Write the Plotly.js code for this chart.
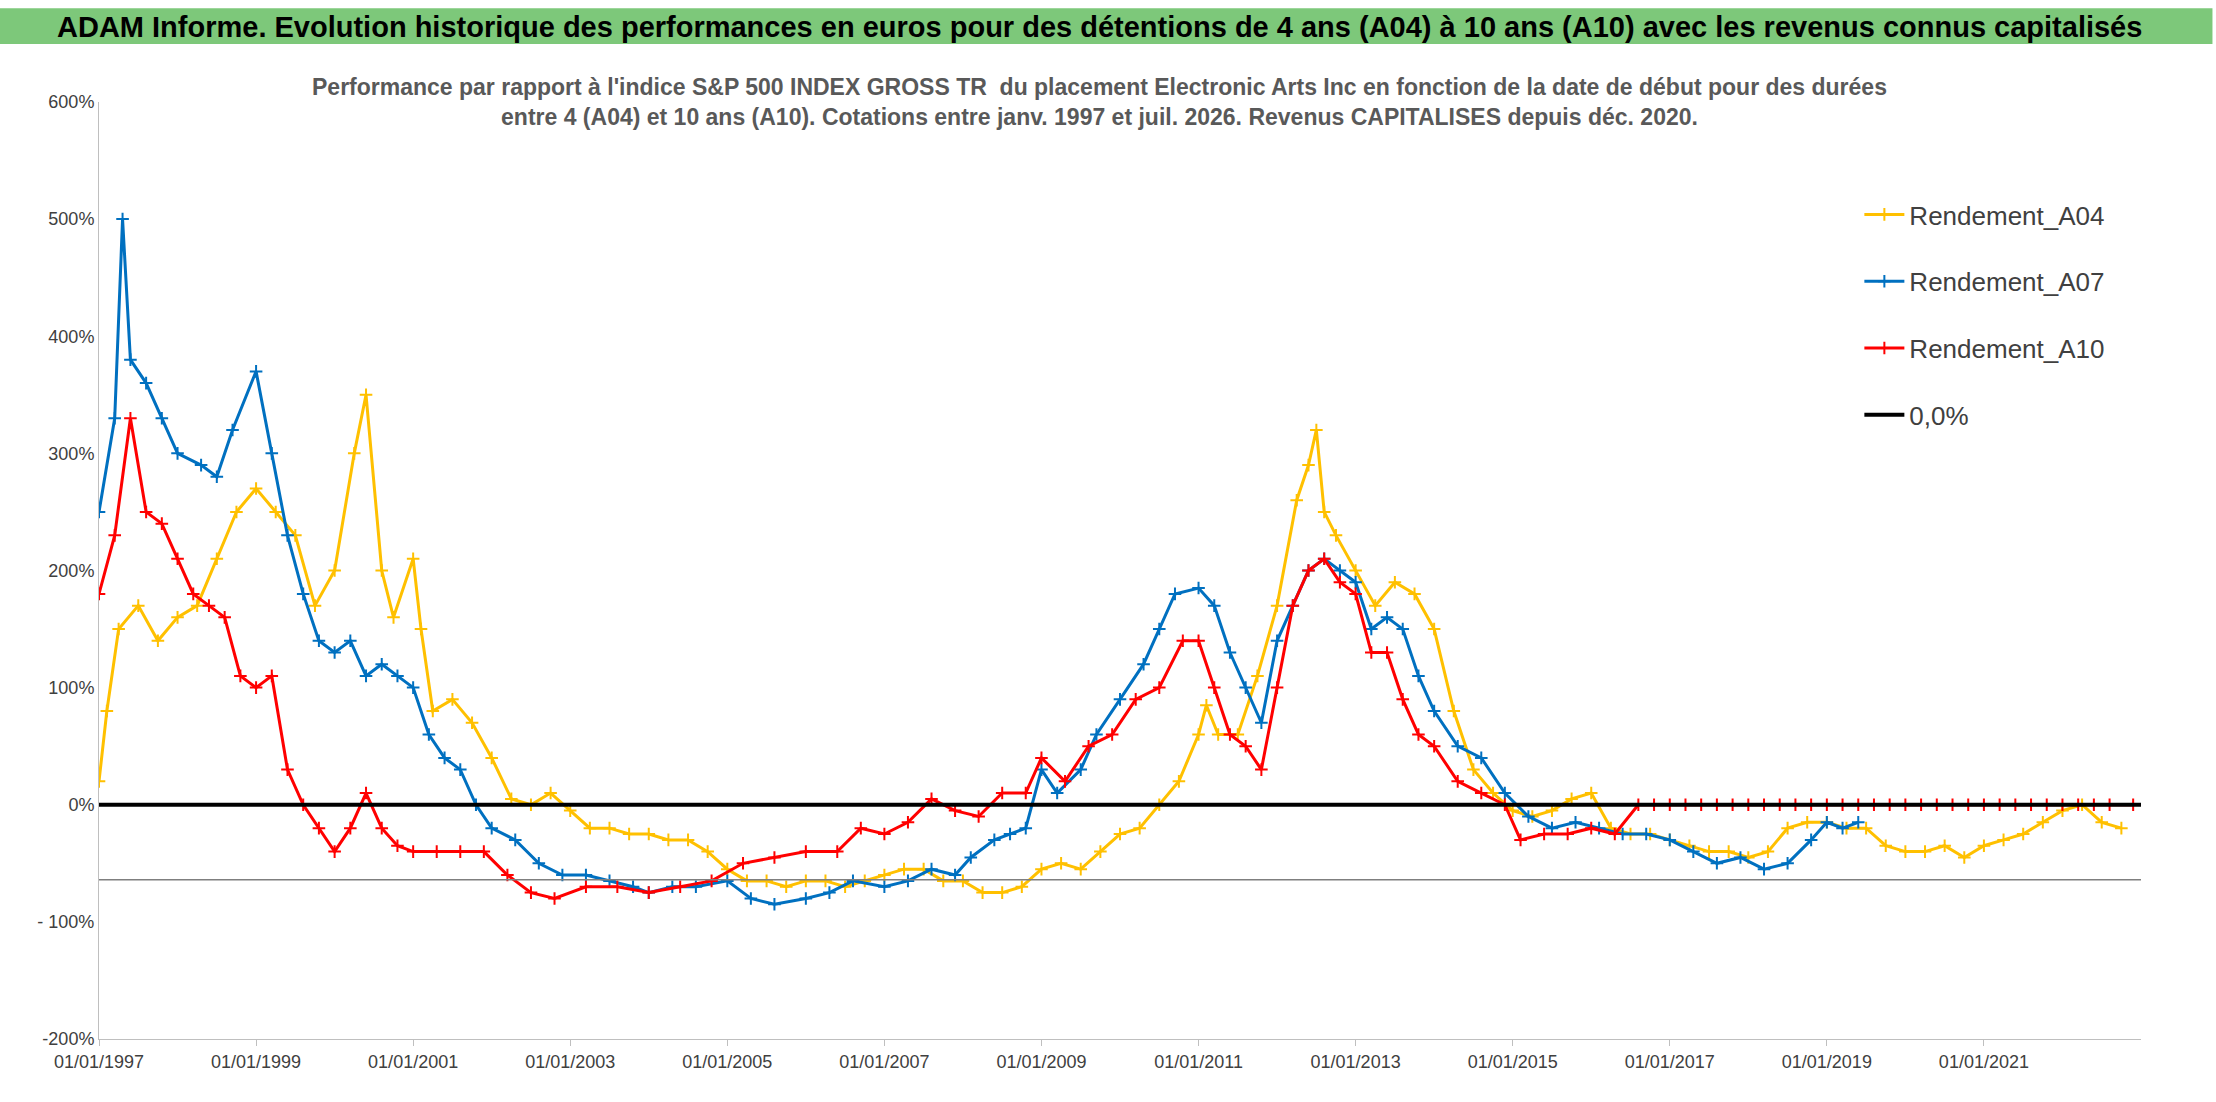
<!DOCTYPE html>
<html><head><meta charset="utf-8">
<script src="https://cdn.plot.ly/plotly-3.0.1.min.js"></script>
<style>body{margin:0;background:#fff}#c{width:2216px;height:1102px}</style></head>
<body><div id="c"></div>
<script>
const a04x=[1997.0,1997.1,1997.25,1997.5,1997.75,1998.0,1998.25,1998.5,1998.75,1999.0,1999.25,1999.5,1999.75,2000.0,2000.25,2000.4,2000.6,2000.75,2001.0,2001.1,2001.25,2001.5,2001.75,2002.0,2002.25,2002.5,2002.75,2003.0,2003.25,2003.5,2003.75,2004.0,2004.25,2004.5,2004.75,2005.0,2005.25,2005.5,2005.75,2006.0,2006.25,2006.5,2006.75,2007.0,2007.25,2007.5,2007.75,2008.0,2008.25,2008.5,2008.75,2009.0,2009.25,2009.5,2009.75,2010.0,2010.25,2010.5,2010.75,2011.0,2011.1,2011.25,2011.5,2011.75,2012.0,2012.25,2012.4,2012.5,2012.6,2012.75,2013.0,2013.25,2013.5,2013.75,2014.0,2014.25,2014.5,2014.75,2015.0,2015.25,2015.5,2015.75,2016.0,2016.25,2016.5,2016.75,2017.0,2017.25,2017.5,2017.75,2018.0,2018.25,2018.5,2018.75,2019.0,2019.25,2019.5,2019.75,2020.0,2020.25,2020.5,2020.75,2021.0,2021.25,2021.5,2021.75,2022.0,2022.25,2022.5,2022.75];
const a04y=[20,80,150,170,140,160,170,210,250,270,250,230,170,200,300,350,200,160,210,150,80,90,70,40,5,0,10,-5,-20,-20,-25,-25,-30,-30,-40,-55,-65,-65,-70,-65,-65,-70,-65,-60,-55,-55,-65,-65,-75,-75,-70,-55,-50,-55,-40,-25,-20,0,20,60,85,60,60,110,170,260,290,320,250,230,200,170,190,180,150,80,30,10,-5,-10,-5,5,10,-20,-25,-25,-30,-35,-40,-40,-45,-40,-20,-15,-15,-20,-20,-35,-40,-40,-35,-45,-35,-30,-25,-15,-5,0,-15,-20];
const a07x=[1997.0,1997.2,1997.3,1997.4,1997.6,1997.8,1998.0,1998.3,1998.5,1998.7,1999.0,1999.2,1999.4,1999.6,1999.8,2000.0,2000.2,2000.4,2000.6,2000.8,2001.0,2001.2,2001.4,2001.6,2001.8,2002.0,2002.3,2002.6,2002.9,2003.2,2003.5,2003.8,2004.0,2004.3,2004.6,2005.0,2005.3,2005.6,2006.0,2006.3,2006.6,2007.0,2007.3,2007.6,2007.9,2008.1,2008.4,2008.6,2008.8,2009.0,2009.2,2009.5,2009.7,2010.0,2010.3,2010.5,2010.7,2011.0,2011.2,2011.4,2011.6,2011.8,2012.0,2012.2,2012.4,2012.6,2012.8,2013.0,2013.2,2013.4,2013.6,2013.8,2014.0,2014.3,2014.6,2014.9,2015.2,2015.5,2015.8,2016.1,2016.4,2016.7,2017.0,2017.3,2017.6,2017.9,2018.2,2018.5,2018.8,2019.0,2019.2,2019.4];
const a07y=[250,330,500,380,360,330,300,290,280,320,370,300,230,180,140,130,140,110,120,110,100,60,40,30,0,-20,-30,-50,-60,-60,-65,-70,-75,-70,-70,-65,-80,-85,-80,-75,-65,-70,-65,-55,-60,-45,-30,-25,-20,30,10,30,60,90,120,150,180,185,170,130,100,70,140,170,200,210,200,190,150,160,150,110,80,50,40,10,-10,-20,-15,-20,-25,-25,-30,-40,-50,-45,-55,-50,-30,-15,-20,-15];
const a10x=[1997.0,1997.2,1997.4,1997.6,1997.8,1998.0,1998.2,1998.4,1998.6,1998.8,1999.0,1999.2,1999.4,1999.6,1999.8,2000.0,2000.2,2000.4,2000.6,2000.8,2001.0,2001.3,2001.6,2001.9,2002.2,2002.5,2002.8,2003.2,2003.6,2004.0,2004.4,2004.8,2005.2,2005.6,2006.0,2006.4,2006.7,2007.0,2007.3,2007.6,2007.9,2008.2,2008.5,2008.8,2009.0,2009.3,2009.6,2009.9,2010.2,2010.5,2010.8,2011.0,2011.2,2011.4,2011.6,2011.8,2012.0,2012.2,2012.4,2012.6,2012.8,2013.0,2013.2,2013.4,2013.6,2013.8,2014.0,2014.3,2014.6,2014.9,2015.1,2015.4,2015.7,2016.0,2016.3,2016.6,2016.8,2017.0,2017.2,2017.4,2017.6,2017.8,2018.0,2018.2,2018.4,2018.6,2018.8,2019.0,2019.2,2019.4,2019.6,2019.8,2020.0,2020.2,2020.4,2020.6,2020.8,2021.0,2021.2,2021.4,2021.6,2021.8,2022.0,2022.2,2022.4,2022.6,2022.9];
const a10y=[180,230,330,250,240,210,180,170,160,110,100,110,30,0,-20,-40,-20,10,-20,-35,-40,-40,-40,-40,-60,-75,-80,-70,-70,-75,-70,-65,-50,-45,-40,-40,-20,-25,-15,5,-5,-10,10,10,40,20,50,60,90,100,140,140,100,60,50,30,100,170,200,210,190,180,130,130,90,60,50,20,10,0,-30,-25,-25,-20,-25,0,0,0,0,0,0,0,0,0,0,0,0,0,0,0,0,0,0,0,0,0,0,0,0,0,0,0,0,0,0,0,0,0];
const tickYears=[1997,1999,2001,2003,2005,2007,2009,2011,2013,2015,2017,2019,2021];
const tickText=tickYears.map(y=>'01/01/'+y);
const yTicks=[-200,-100,0,100,200,300,400,500,600];
const yText=['-200%','- 100%','0%','100%','200%','300%','400%','500%','600%'];

const F="'Liberation Sans Narrow','Liberation Sans',Arial,sans-serif";
function tr(name,x,y,color){return {type:'scatter',mode:'lines+markers',name:name,legendgroup:name,x:x,y:y,
  line:{color:color,width:3},marker:{symbol:'cross-thin-open',size:9,color:color,line:{color:color,width:2}}};}
const data=[tr('Rendement_A04',a04x,a04y,'#ffc000'),tr('Rendement_A07',a07x,a07y,'#0070c0'),tr('Rendement_A10',a10x,a10y,'#ff0000'),
 {type:'scatter',mode:'lines',name:'0,0%',legendgroup:'z',x:[1997,2023],y:[0,0],line:{color:'#000',width:4}}];
const layout={width:2216,height:1102,paper_bgcolor:'#fff',plot_bgcolor:'#fff',
 margin:{l:99,r:75,t:102,b:63},showlegend:true,
 legend:{x:0.985,xanchor:'right',y:0.905,yanchor:'top',font:{family:F,size:26,color:'#404040'},bgcolor:'#fff',tracegroupgap:30,itemwidth:40,traceorder:'grouped'},
 xaxis:{range:[1997,2023],tickvals:tickYears,ticktext:tickText,showgrid:false,zeroline:false,showline:true,linecolor:'#bfbfbf',ticks:'outside',ticklen:6,tickcolor:'#bfbfbf',tickfont:{family:F,size:18,color:'#404040'}},
 yaxis:{range:[-200,600],tickvals:yTicks,ticktext:yText,showgrid:false,zeroline:false,showline:true,linecolor:'#bfbfbf',tickfont:{family:F,size:18,color:'#404040'}},
 shapes:[{type:'rect',xref:'paper',yref:'paper',x0:-0.05,x1:1.035,y0:1.062,y1:1.1,fillcolor:'#7dc87a',line:{width:0},layer:'below'},
  {type:'line',xref:'paper',yref:'y',x0:0,x1:1,y0:-64,y1:-64,line:{color:'#7f7f7f',width:1.5}}],
 annotations:[
  {xref:'paper',yref:'paper',x:0.49,y:1.08,yanchor:'middle',showarrow:false,text:'<b>ADAM Informe. Evolution historique des performances en euros pour des détentions de 4 ans (A04) à 10 ans (A10) avec les revenus connus capitalisés</b>',font:{family:F,size:29,color:'#000'}},
  {xref:'paper',yref:'paper',x:0.49,y:1.0,yanchor:'middle',showarrow:false,align:'center',text:"<b>Performance par rapport à l'indice S&P 500 INDEX GROSS TR  du placement Electronic Arts Inc en fonction de la date de début pour des durées<br>entre 4 (A04) et 10 ans (A10). Cotations entre janv. 1997 et juil. 2026. Revenus CAPITALISES depuis déc. 2020.</b>",font:{family:F,size:23,color:'#595959'},bgcolor:'#fff'}
 ]};
Plotly.newPlot('c',data,layout,{displayModeBar:false});
</script></body></html>
